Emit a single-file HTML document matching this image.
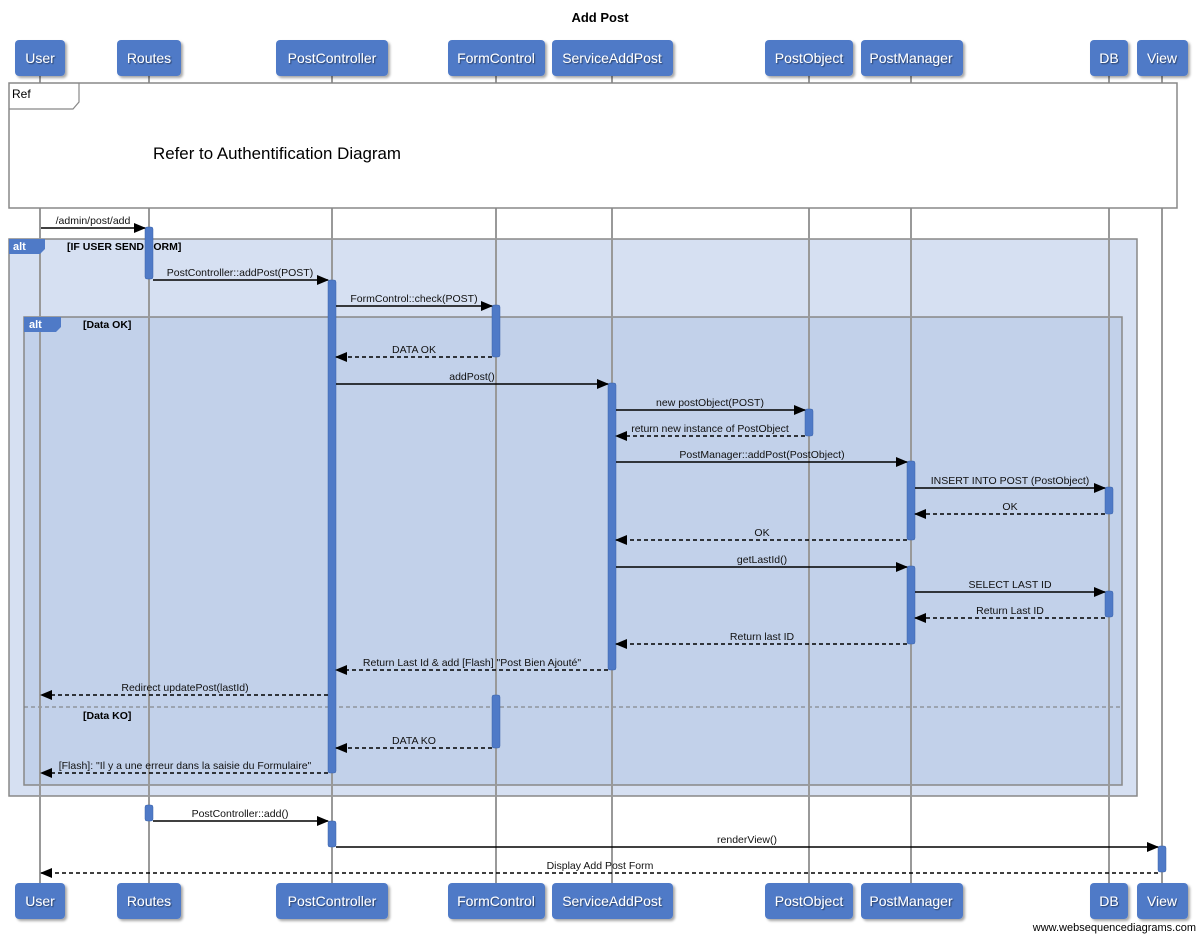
<!DOCTYPE html>
<html><head><meta charset="utf-8"><style>
html,body{margin:0;padding:0;background:#fff;}
svg{display:block;font-family:"Liberation Sans",sans-serif;}
.lb{font-size:10.5px;fill:#111;text-anchor:middle;}
.ph{font-size:14px;fill:#fff;text-anchor:middle;}
</style></head><body>
<svg width="1200" height="938" viewBox="0 0 1200 938" xmlns="http://www.w3.org/2000/svg">
<defs>
<marker id="a" markerWidth="12" markerHeight="10" refX="11" refY="5" orient="auto" markerUnits="userSpaceOnUse"><path d="M0,0 L12,5 L0,10 z" fill="#000"/></marker>
<filter id="sh" x="-10%" y="-10%" width="130%" height="140%"><feDropShadow dx="2" dy="2" stdDeviation="1.2" flood-color="#000" flood-opacity="0.35"/></filter>
<filter id="ts" x="-5%" y="-20%" width="110%" height="140%"><feDropShadow dx="1" dy="1" stdDeviation="0.5" flood-color="#000" flood-opacity="0.5"/></filter>
</defs>
<text x="600" y="22" font-size="13" font-weight="bold" text-anchor="middle">Add Post</text>

<rect x="9" y="239" width="1128" height="557" fill="#d6e0f2" stroke="#888" stroke-width="1.5"/>
<rect x="24" y="317" width="1098" height="468" fill="#c2d1ea" stroke="#888" stroke-width="1.5"/>
<line x1="24" y1="707" x2="1122" y2="707" stroke="#777" stroke-dasharray="4,3"/>

<g stroke="#999" stroke-width="2">
<line x1="40" y1="76" x2="40" y2="883"/><line x1="149" y1="76" x2="149" y2="883"/>
<line x1="332" y1="76" x2="332" y2="883"/><line x1="496" y1="76" x2="496" y2="883"/>
<line x1="612" y1="76" x2="612" y2="883"/><line x1="809" y1="76" x2="809" y2="883"/>
<line x1="911" y1="76" x2="911" y2="883"/><line x1="1109" y1="76" x2="1109" y2="883"/>
<line x1="1162" y1="76" x2="1162" y2="883"/>
</g>

<rect x="9" y="83" width="1168" height="125" fill="#fff" stroke="#888" stroke-width="1.5"/>
<path d="M9,109 L73,109 L79,102 L79,83" fill="none" stroke="#888" stroke-width="1.2"/>
<text x="12" y="98" font-size="12">Ref</text>
<text x="277" y="159" font-size="17" text-anchor="middle" textLength="248" lengthAdjust="spacingAndGlyphs">Refer to Authentification Diagram</text>

<path d="M9,239 L45,239 L45,249 L40,254 L9,254 z" fill="#4f7ac7"/>
<text x="13" y="250" font-size="11" font-weight="bold" fill="#fff">alt</text>
<text x="67" y="250" font-size="10.5" font-weight="bold">[IF USER SEND FORM]</text>
<path d="M24,317 L61,317 L61,327 L56,332 L24,332 z" fill="#4f7ac7"/>
<text x="29" y="328" font-size="11" font-weight="bold" fill="#fff">alt</text>
<text x="83" y="328" font-size="10.5" font-weight="bold">[Data OK]</text>
<text x="83" y="719" font-size="10.5" font-weight="bold">[Data KO]</text>

<g fill="#4f7ac7" stroke="#3a62a8" stroke-width="0.5">
<rect x="145" y="227" width="8" height="52" rx="2"/>
<rect x="328" y="280" width="8" height="493" rx="2"/>
<rect x="492" y="305" width="8" height="52" rx="2"/>
<rect x="492" y="695" width="8" height="53" rx="2"/>
<rect x="608" y="383" width="8" height="287" rx="2"/>
<rect x="805" y="409" width="8" height="27" rx="2"/>
<rect x="907" y="461" width="8" height="79" rx="2"/>
<rect x="907" y="566" width="8" height="78" rx="2"/>
<rect x="1105" y="487" width="8" height="27" rx="2"/>
<rect x="1105" y="591" width="8" height="26" rx="2"/>
<rect x="145" y="805" width="8" height="16" rx="2"/>
<rect x="328" y="821" width="8" height="26" rx="2"/>
<rect x="1158" y="846" width="8" height="26" rx="2"/>
</g>

<g stroke="#000" stroke-width="1.6" fill="none" marker-end="url(#a)">
<line x1="41" y1="228" x2="145" y2="228"/>
<line x1="153" y1="280" x2="328" y2="280"/>
<line x1="336" y1="306" x2="492" y2="306"/>
<line x1="492" y1="357" x2="336" y2="357" stroke-dasharray="4,3"/>
<line x1="336" y1="384" x2="608" y2="384"/>
<line x1="616" y1="410" x2="805" y2="410"/>
<line x1="805" y1="436" x2="616" y2="436" stroke-dasharray="4,3"/>
<line x1="616" y1="462" x2="907" y2="462"/>
<line x1="915" y1="488" x2="1105" y2="488"/>
<line x1="1105" y1="514" x2="915" y2="514" stroke-dasharray="4,3"/>
<line x1="907" y1="540" x2="616" y2="540" stroke-dasharray="4,3"/>
<line x1="616" y1="567" x2="907" y2="567"/>
<line x1="915" y1="592" x2="1105" y2="592"/>
<line x1="1105" y1="618" x2="915" y2="618" stroke-dasharray="4,3"/>
<line x1="907" y1="644" x2="616" y2="644" stroke-dasharray="4,3"/>
<line x1="608" y1="670" x2="336" y2="670" stroke-dasharray="4,3"/>
<line x1="328" y1="695" x2="41" y2="695" stroke-dasharray="4,3"/>
<line x1="492" y1="748" x2="336" y2="748" stroke-dasharray="4,3"/>
<line x1="328" y1="773" x2="41" y2="773" stroke-dasharray="4,3"/>
<line x1="153" y1="821" x2="328" y2="821"/>
<line x1="336" y1="847" x2="1158" y2="847"/>
<line x1="1158" y1="873" x2="41" y2="873" stroke-dasharray="4,3"/>
</g>
<g class="lb">
<text x="93" y="224">/admin/post/add</text>
<text x="240" y="276">PostController::addPost(POST)</text>
<text x="414" y="302">FormControl::check(POST)</text>
<text x="414" y="353">DATA OK</text>
<text x="472" y="380">addPost()</text>
<text x="710" y="406">new postObject(POST)</text>
<text x="710" y="432">return new instance of PostObject</text>
<text x="762" y="458">PostManager::addPost(PostObject)</text>
<text x="1010" y="484">INSERT INTO POST (PostObject)</text>
<text x="1010" y="510">OK</text>
<text x="762" y="536">OK</text>
<text x="762" y="563">getLastId()</text>
<text x="1010" y="588">SELECT LAST ID</text>
<text x="1010" y="614">Return Last ID</text>
<text x="762" y="640">Return last ID</text>
<text x="472" y="666">Return Last Id &amp; add [Flash] "Post Bien Ajouté"</text>
<text x="185" y="691">Redirect updatePost(lastId)</text>
<text x="414" y="744">DATA KO</text>
<text x="185" y="769">[Flash]: "Il y a une erreur dans la saisie du Formulaire"</text>
<text x="240" y="817">PostController::add()</text>
<text x="747" y="843">renderView()</text>
<text x="600" y="869">Display Add Post Form</text>
</g>

<g fill="#4f7ac7" filter="url(#sh)">
<rect x="15" y="40" width="50" height="36" rx="4"/><rect x="117" y="40" width="64" height="36" rx="4"/>
<rect x="276" y="40" width="112" height="36" rx="4"/><rect x="448" y="40" width="97" height="36" rx="4"/>
<rect x="552" y="40" width="121" height="36" rx="4"/><rect x="765" y="40" width="88" height="36" rx="4"/>
<rect x="861" y="40" width="102" height="36" rx="4"/><rect x="1090" y="40" width="38" height="36" rx="4"/>
<rect x="1137" y="40" width="51" height="36" rx="4"/>
<rect x="15" y="883" width="50" height="36" rx="4"/><rect x="117" y="883" width="64" height="36" rx="4"/>
<rect x="276" y="883" width="112" height="36" rx="4"/><rect x="448" y="883" width="97" height="36" rx="4"/>
<rect x="552" y="883" width="121" height="36" rx="4"/><rect x="765" y="883" width="88" height="36" rx="4"/>
<rect x="861" y="883" width="102" height="36" rx="4"/><rect x="1090" y="883" width="38" height="36" rx="4"/>
<rect x="1137" y="883" width="51" height="36" rx="4"/>
</g>
<g class="ph" filter="url(#ts)">
<text x="40" y="63">User</text><text x="149" y="63">Routes</text><text x="332" y="63">PostController</text>
<text x="496" y="63">FormControl</text><text x="612" y="63">ServiceAddPost</text><text x="809" y="63">PostObject</text>
<text x="911" y="63">PostManager</text><text x="1109" y="63">DB</text><text x="1162" y="63">View</text>
<text x="40" y="906">User</text><text x="149" y="906">Routes</text><text x="332" y="906">PostController</text>
<text x="496" y="906">FormControl</text><text x="612" y="906">ServiceAddPost</text><text x="809" y="906">PostObject</text>
<text x="911" y="906">PostManager</text><text x="1109" y="906">DB</text><text x="1162" y="906">View</text>
</g>
<text x="1196" y="931" font-size="11" text-anchor="end">www.websequencediagrams.com</text>
</svg>
</body></html>
